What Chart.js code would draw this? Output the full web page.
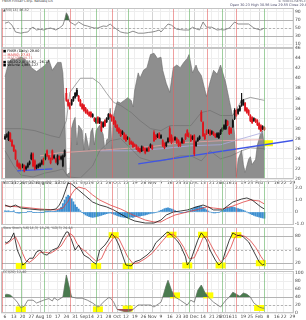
<!DOCTYPE html>
<html>
<head>
<meta charset="utf-8">
<script src="https://cdn.jsdelivr.net/npm/chart.js@4.4.1/dist/chart.umd.min.js"></script>
<style>
  html, body { margin: 0; padding: 0; background: #fff; }
  #wrap { position: relative; width: 306px; height: 320px; overflow: hidden; font-family: 'DejaVu Sans', sans-serif; }
  canvas { position: absolute; left: 0; }
  .t { position: absolute; font-size: 3.4px; line-height: 3.6px; color: #333; white-space: nowrap; }
</style>
</head>
<body>
<div id="wrap">
  <canvas id="cRsi" width="306" height="48" style="top:4px"></canvas>
  <canvas id="cPrice" width="306" height="142" style="top:44px"></canvas>
  <canvas id="cMacd" width="306" height="52" style="top:177px"></canvas>
  <canvas id="cStoch" width="306" height="51" style="top:223px"></canvas>
  <canvas id="cLow" width="306" height="53" style="top:267px"></canvas>

  <div class="t" style="left:2px;top:0px;color:#444">FNSR Finisar Corp. Nasdaq GS</div>
  <div class="t" style="left:278px;top:0px;color:#667">© StockCharts.com</div>
  <div class="t" style="left:230px;top:4px;color:#446">Open 30.23 High 30.56 Low 29.55 Close 29.80 Chg -0.40 (-1.32%)<span style="color:#c00">▼</span></div>
  <div class="t" style="left:3px;top:9px;color:#555">▲RSI(14) 46.82</div>

  <div class="t" style="left:3px;top:50px;color:#000">■ FNSR (Daily) 29.80</div>
  <div class="t" style="left:3px;top:53.6px;color:#d22">— MA(50) 27.83</div>
  <div class="t" style="left:3px;top:57.2px;color:#c77">— MA(200) 28.71</div>
  <div class="t" style="left:3px;top:60.8px;color:#000">■ BB(20,2.0) 35.62 - 26.17</div>
  <div class="t" style="left:3px;top:64.4px;color:#000">■ Volume 1,865,127</div>

  <div class="t" style="left:3px;top:182px;color:#555">MACD(12,26,9) 0.247, 0.671, -0.424</div>
  <div class="t" style="left:3px;top:227px;color:#555">Slow Stoch %K(14,3) 18.26, %D(3) 24.48</div>
  <div class="t" style="left:3px;top:271px;color:#555">CCI(20) 12.40</div>
</div>

<script>
// trading-day index on the x axis (0 = Jul 6 2015)
const tickPos = [0,5,10,15,20,25,30,35,40,45,49,54,59,64,69,74,79,84,89,94,99,103,108,113,118,122,126,131,136,140,145,150,155,159,164];
const tickText = ['6','13','20','27','Aug','10','17','24','31','Sep','14','21','28','Oct','12','19','26','Nov','9','16','23','30','Dec','14','21','28','2016','11','19','25','Feb','8','16','22','29'];
const monthTicks = ['Aug','Sep','Oct','Nov','Dec','2016','Feb'];

// marker lines (stoch tops in red, bottoms in green)
const redLines = [-2, 37, 61, 96, 115, 132];
const greenLines = [9, 22, 52, 70, 105, 124, 148];

// daily candles
const openP = [
  28.0,28.4,27.8,29.0,27.6,26.6,25.6,23.6,23.0,22.8,
  22.4,22.6,22.0,22.4,23.0,24.0,25.0,23.6,22.2,22.4,
  22.6,23.0,24.0,24.0,25.6,24.6,24.0,25.6,24.2,24.0,
  23.0,24.4,24.0,22.6,24.6,37.0,35.6,35.0,34.8,35.6,
  36.2,36.6,36.4,35.6,34.8,34.6,34.0,33.6,33.2,33.2,
  32.4,32.0,31.2,32.2,31.2,31.2,30.4,31.6,31.4,32.0,
  32.8,32.6,32.2,31.4,30.6,30.0,29.6,29.0,29.0,28.6,
  28.0,28.0,27.4,27.2,26.8,26.6,26.2,26.0,25.6,26.2,
  26.0,25.6,26.2,26.4,26.6,29.2,28.6,28.4,29.0,28.2,
  27.6,27.0,26.6,27.4,30.0,28.6,28.0,27.8,28.0,27.6,
  27.2,27.2,27.6,28.8,29.6,29.0,28.6,28.0,28.6,26.6,
  27.6,28.0,33.2,31.2,28.8,29.6,29.2,29.6,29.0,29.2,
  28.8,28.4,28.2,29.0,29.6,30.0,30.0,31.4,30.2,30.0,
  30.4,32.0,33.6,33.0,33.6,34.6,34.8,35.0,34.0,33.6,
  32.6,32.2,31.6,31.8,31.6,31.0,30.6,30.0,30.2
];
const closeP = [
  28.4,28.8,29.2,27.6,26.6,25.6,24.0,22.6,22.2,22.0,
  22.8,21.6,22.4,23.0,23.4,24.8,22.6,22.0,22.6,22.8,
  23.0,23.6,23.0,24.8,24.6,24.0,23.2,24.0,24.6,23.4,
  24.6,24.0,24.4,24.6,25.6,35.6,34.6,34.0,35.6,36.2,
  37.0,37.6,35.6,34.6,34.0,33.6,33.2,33.0,32.6,32.4,
  32.8,31.6,32.0,31.2,32.0,29.6,31.2,30.6,32.0,32.8,
  32.4,31.6,31.0,30.4,29.6,29.2,28.6,29.4,28.0,27.6,
  28.2,27.0,27.0,26.4,26.6,26.0,25.6,25.4,26.4,25.8,
  25.2,26.0,25.6,26.8,26.0,27.6,28.0,28.8,28.2,28.6,
  26.6,26.2,27.2,28.0,27.6,27.2,27.6,28.2,27.2,26.6,
  26.6,28.0,27.2,28.0,28.6,28.4,27.6,28.4,25.0,27.4,
  28.0,28.4,31.6,28.6,28.0,29.0,29.6,28.8,29.4,28.8,
  28.4,29.0,29.0,29.6,30.0,30.6,31.6,30.8,29.0,29.2,
  31.6,33.6,32.6,33.8,34.4,35.6,35.6,33.6,33.2,32.8,
  31.6,31.2,32.0,31.4,30.8,30.0,29.6,30.4,29.8
];
const highP = [
  28.8,29.0,29.4,29.2,27.8,26.8,25.8,23.8,23.2,23.0,
  23.0,22.8,22.6,23.2,23.6,25.2,25.2,23.8,22.8,23.0,
  23.2,23.8,24.2,25.0,25.8,24.8,24.2,25.8,24.8,24.2,
  24.8,24.6,24.6,24.8,25.8,38.0,35.8,35.2,35.8,36.4,
  37.2,38.0,36.6,35.8,35.0,34.8,34.2,33.8,33.4,33.4,
  33.0,32.2,32.2,32.4,32.2,31.4,31.4,31.8,32.2,33.0,
  33.0,32.8,32.4,31.6,30.8,30.2,29.8,29.6,29.2,28.8,
  28.4,28.2,27.6,27.4,27.0,26.8,26.4,26.2,26.6,26.4,
  26.2,26.2,26.4,27.0,26.8,29.6,28.8,29.0,29.2,28.8,
  27.8,27.2,27.4,28.2,30.4,28.8,28.2,28.4,28.2,27.8,
  27.4,28.2,27.8,29.0,29.8,29.2,28.8,28.6,28.8,27.6,
  28.2,28.6,33.6,31.4,29.0,29.8,29.8,29.8,29.6,29.4,
  29.0,29.2,29.2,29.8,30.2,30.8,31.8,31.6,30.4,30.2,
  31.8,34.0,33.8,34.0,34.6,37.0,35.8,35.2,34.2,33.8,
  32.8,32.4,32.2,32.0,31.8,31.2,30.8,30.6,30.4
];
const lowP = [
  27.8,28.2,27.6,27.4,26.4,25.4,23.8,22.4,22.0,21.8,
  22.2,21.4,21.8,22.2,22.8,23.8,22.4,21.8,22.0,22.2,
  22.4,22.8,22.8,23.8,24.4,23.8,23.0,23.8,24.0,23.2,
  22.8,23.8,23.8,22.4,24.4,35.4,34.4,33.8,34.6,35.4,
  36.0,36.4,35.4,34.4,33.8,33.4,33.0,32.8,32.4,32.2,
  32.2,31.4,31.0,31.0,31.0,29.4,30.2,30.4,31.2,31.8,
  32.2,31.4,30.8,30.2,29.4,29.0,28.4,28.8,27.8,27.4,
  27.8,26.8,26.8,26.2,26.4,25.8,25.4,25.2,25.4,25.6,
  25.0,25.4,25.4,26.2,25.8,27.4,27.8,28.2,28.0,28.0,
  26.4,26.0,26.4,27.2,27.4,27.0,27.4,27.6,27.0,26.4,
  26.4,27.0,27.0,27.8,28.4,28.2,27.4,27.8,24.6,26.4,
  27.4,27.8,31.4,28.4,27.8,28.8,29.0,28.6,28.8,28.6,
  28.2,28.2,28.0,28.8,29.4,29.8,29.8,30.6,28.8,29.0,
  30.2,31.8,32.4,32.8,33.4,34.4,34.6,33.4,33.0,32.6,
  31.4,31.0,31.4,31.2,30.6,29.8,29.4,29.8,29.6
];

// shaded indicator behind the price (0-100)
const grayArea = [[0,78],[2,89],[4,92],[6,91],[9,93],[11,92],[13,89],[15,85],[18,82],[21,85],[23,87],[25,91],[27,83],[30,89],[32,89],[33,81],[34,53],[35,3],[37,5],[38,39],[39,44],[40,47],[41,26],[42,41],[44,37],[45,22],[46,35],[48,22],[49,36],[50,39],[51,26],[52,37],[53,39],[54,41],[56,34],[57,22],[58,30],[59,31],[60,54],[61,22],[62,49],[64,59],[66,58],[68,60],[70,62],[72,60],[73,55],[74,68],[76,81],[77,77],[79,83],[81,85],[83,95],[85,96],[87,92],[89,93],[90,83],[92,73],[94,66],[96,85],[98,87],[100,85],[102,89],[104,92],[105,95],[107,81],[109,87],[110,83],[112,79],[115,63],[117,74],[119,83],[121,80],[123,87],[126,73],[128,60],[130,47],[131,34],[132,2],[133,15],[135,22],[136,11],[137,5],[139,15],[140,17],[141,11],[143,15],[144,26],[146,35],[147,37],[148,22]];

// overlays on the price panel
const bbUpper = [[0,30.0],[9,30.0],[17,29.6],[26,28.6],[31,28.2],[35,31.6],[37,37.2],[43,40.0],[50,40.0],[54,39.0],[58,37.0],[62,35.2],[66,34.6],[72,33.2],[77,31.6],[83,30.0],[89,29.6],[94,30.6],[100,30.6],[106,30.6],[112,33.2],[117,33.6],[123,32.6],[130,32.6],[135,35.6],[140,36.2],[148,35.6]];
const bbLower = [[0,25.6],[5,22.6],[9,20.8],[16,20.4],[23,21.2],[29,21.6],[33,22.0],[36,20.4],[43,20.2],[50,22.6],[54,25.6],[60,27.6],[66,28.0],[72,26.0],[77,24.2],[83,23.6],[89,23.6],[94,24.0],[100,24.6],[106,24.6],[112,23.6],[117,25.6],[123,24.0],[129,24.6],[135,25.6],[140,26.2],[148,26.0]];
const maPink = [[20,24.6],[31,25.2],[49,25.6],[66,26.0],[83,26.4],[100,27.2],[123,27.6],[147,27.8]];
const maLilac = [[54,25.6],[72,25.6],[89,26.0],[106,26.6],[123,26.8],[147,29.2]];
const trendA = [[7,21.6],[27,22.0]];
const trendB = [[76,23.0],[165,27.7]];
const priceMarks = [[150,27.1]];

// RSI(14)
const rsiLine = [[0,62],[2,65],[4,57],[6,40],[9,37],[11,39],[13,40],[15,50],[16,52],[18,45],[20,47],[22,45],[24,48],[26,50],[29,45],[31,50],[33,57],[34,70],[35,88],[36,80],[37,65],[39,60],[40,57],[42,65],[45,57],[47,55],[49,52],[51,50],[53,50],[56,55],[58,54],[60,60],[62,52],[64,46],[66,40],[68,38],[70,37],[73,42],[76,37],[79,37],[82,39],[84,40],[86,42],[88,45],[89,40],[91,50],[93,60],[95,57],[98,47],[100,46],[102,45],[105,45],[107,52],[109,48],[111,45],[113,65],[115,52],[118,52],[121,45],[123,46],[125,45],[128,50],[131,65],[133,60],[136,60],[139,60],[142,50],[144,47],[146,45],[148,50]];

// MACD(12,26,9)
const macdLine = [[0,0.58],[3,0.42],[6,0.58],[9,0.33],[14,0.25],[20,0.17],[26,0.17],[29,0.25],[31,0.58],[33,1.17],[35,2.0],[36,2.42],[38,2.33],[42,1.83],[46,1.33],[50,0.83],[54,0.58],[58,0.42],[62,0.17],[66,-0.17],[70,-0.5],[74,-0.75],[80,-0.92],[85,-0.92],[89,-0.67],[92,-0.25],[96,0],[100,0.08],[104,0.17],[109,0.42],[113,0.58],[116,0.42],[119,0.17],[124,0.17],[130,0.83],[135,1.08],[138,1.17],[141,1.0],[146,0.42],[148,0.25]];
const signalLine = [[0,0.5],[9,0.42],[20,0.25],[29,0.17],[33,0.33],[35,0.7],[36,0.9],[38,1.5],[40,1.9],[42,2.08],[46,1.92],[50,1.42],[54,1.0],[60,0.58],[66,0.25],[73,-0.25],[80,-0.67],[85,-0.83],[89,-0.83],[92,-0.58],[97,-0.25],[104,0],[109,0.17],[115,0.42],[119,0.33],[124,0.25],[130,0.5],[136,0.83],[140,1.0],[145,0.92],[148,0.67]];
const macdHist = [
  0.1,0.08,0.1,0.05,0.06,0.1,
  -0.05,-0.08,-0.1,-0.08,-0.05,-0.04,-0.02,
  0.02,0.03,0.02,-0.02,-0.03,-0.05,-0.04,-0.03,-0.02,-0.01,0.01,0.02,0.02,
  0.03,0.05,0.06,0.08,0.15,0.25,0.4,
  0.7,1.0,1.25,1.4,1.3,1.1,0.85,0.6,0.4,0.25,0.1,-0.05,
  -0.15,-0.25,-0.32,-0.38,-0.42,-0.45,-0.42,-0.4,-0.36,-0.32,-0.28,-0.22,-0.18,-0.14,
  -0.1,-0.08,-0.12,-0.18,
  -0.24,-0.3,-0.35,-0.4,-0.42,-0.45,-0.45,-0.48,-0.45,-0.42,-0.45,-0.4,-0.38,-0.36,-0.34,-0.3,-0.28,-0.25,-0.2,-0.16,-0.12,-0.1,
  -0.08,-0.05,0.0,0.08,0.14,0.2,
  0.28,0.32,0.34,0.3,0.25,0.2,
  0.12,0.05,0.0,-0.04,-0.06,-0.05,-0.02,0.03,
  0.1,0.18,0.26,0.34,0.4,0.45,0.48,0.45,0.38,
  0.28,0.18,0.08,0.0,-0.05,-0.08,-0.08,-0.06,-0.03,
  0.05,0.12,0.2,0.28,0.34,0.38,0.4,0.42,0.38,
  0.32,0.28,0.24,0.2,0.14,
  0.08,0.0,-0.08,-0.15,-0.22,-0.28,-0.34,-0.38,-0.42,-0.46,-0.5,-0.52
];

// Slow stochastic
const stochK = [[0,67],[1,65],[3,71],[5,87],[7,49],[9,31],[10,16],[11,18],[14,31],[16,31],[18,45],[20,49],[22,40],[24,38],[27,49],[30,54],[31,60],[33,76],[35,89],[36,89],[38,71],[40,49],[42,60],[45,38],[48,31],[50,23],[52,18],[54,49],[57,60],[59,71],[61,85],[63,76],[65,60],[67,38],[69,16],[72,14],[74,23],[77,27],[81,38],[84,49],[86,65],[89,76],[92,87],[93,89],[95,82],[98,71],[100,60],[103,34],[104,16],[106,27],[108,49],[110,71],[112,87],[113,82],[115,71],[117,49],[120,27],[122,16],[124,23],[126,49],[128,71],[130,87],[132,82],[135,80],[136,78],[139,67],[140,60],[143,38],[145,23],[147,16],[148,18]];
const stochD = [[0,62],[2,65],[4,72],[6,78],[8,62],[10,42],[12,25],[14,22],[16,28],[18,35],[20,44],[23,44],[26,42],[29,49],[32,58],[35,77],[37,86],[39,80],[41,64],[43,54],[46,46],[49,35],[52,24],[55,30],[58,55],[61,72],[63,80],[65,74],[67,58],[70,34],[73,19],[76,21],[80,30],[84,42],[87,56],[90,70],[93,83],[96,84],[99,73],[102,55],[105,30],[108,32],[111,58],[113,77],[115,79],[117,64],[120,42],[123,23],[126,33],[129,56],[131,77],[134,83],[137,79],[140,70],[143,55],[146,35],[148,24]];
const stochMarks = [[9,14],[52,14],[70,13],[62,82],[95,83],[113,83],[132,82],[104,15],[123,15],[146,20]];

// lower indicator
const lowLine = [[0,45],[1,47],[3,45],[5,37],[7,27],[9,13],[11,17],[13,32],[16,32],[18,25],[22,32],[25,36],[27,30],[28,38],[30,32],[33,40],[35,95],[38,40],[41,37],[44,37],[47,32],[50,25],[53,15],[54,17],[56,27],[59,38],[60,38],[62,27],[64,9],[66,6],[69,3],[72,5],[73,9],[76,20],[79,20],[83,20],[85,15],[89,27],[90,40],[92,70],[93,82],[95,57],[97,40],[100,32],[104,20],[106,32],[108,27],[110,57],[112,70],[114,52],[116,40],[119,27],[123,15],[126,32],[128,40],[130,52],[132,47],[134,42],[136,50],[138,47],[140,40],[142,25],[145,15],[147,12],[148,12]];
const lowMarks = [[9,9],[53,9],[70,11],[97,44],[116,44],[145,12.5]];

Chart.defaults.font.family = "'DejaVu Sans', sans-serif";

const pts = arr => arr.map(([x, y]) => ({ x, y }));

// draws level lines, yellow highlights, marker lines and the panel frame
const deco = {
  id: 'deco',
  beforeDatasetsDraw(chart, args, o) {
    const { ctx, chartArea: a } = chart;
    const x = chart.scales.x, y = chart.scales.y;
    ctx.save();
    (o.levels || []).forEach(([v, dashed]) => {
      const py = Math.round(y.getPixelForValue(v)) + 0.5;
      ctx.strokeStyle = '#a4a4a4';
      ctx.lineWidth = 0.8;
      ctx.setLineDash(dashed ? [2, 2] : []);
      ctx.beginPath(); ctx.moveTo(a.left, py); ctx.lineTo(a.right, py); ctx.stroke();
    });
    ctx.setLineDash([]);
    ctx.fillStyle = '#ffff00';
    (o.marks || []).forEach(([i, v]) => {
      ctx.fillRect(x.getPixelForValue(i) - 5, y.getPixelForValue(v) - 3, 10, 6);
    });
    ctx.restore();
  },
  afterDatasetsDraw(chart) {
    const { ctx, chartArea: a } = chart;
    const x = chart.scales.x;
    ctx.save();
    ctx.lineWidth = 1;
    [[redLines, 'rgba(228,96,96,0.6)'], [greenLines, 'rgba(96,176,96,0.6)']].forEach(([list, col]) => {
      ctx.strokeStyle = col;
      list.forEach(i => {
        const px = Math.round(x.getPixelForValue(i)) + 0.5;
        ctx.beginPath(); ctx.moveTo(px, a.top); ctx.lineTo(px, a.bottom); ctx.stroke();
      });
    });
    ctx.strokeStyle = '#c4c4c4';
    ctx.strokeRect(a.left + 0.5, a.top + 0.5, a.width - 1, a.height - 1);
    ctx.restore();
  }
};

function xAxis(showLabels) {
  return {
    type: 'linear', min: -2.3, max: 164.9, offset: false,
    afterBuildTicks: ax => { ax.ticks = tickPos.map(v => ({ value: v })); },
    afterFit: ax => { ax.height = showLabels ? 7 : 0; },
    grid: {
      offset: false, drawTicks: false,
      color: c => (c.tick && monthTicks.includes(tickText[tickPos.indexOf(c.tick.value)])) ? '#d4d4d4' : '#eeeeee'
    },
    border: { display: false },
    ticks: {
      display: showLabels, autoSkip: false, maxRotation: 0, padding: 1,
      font: { size: 4.5 }, color: '#444',
      callback: v => tickText[tickPos.indexOf(v)]
    }
  };
}

function yAxis(min, max, ticks) {
  return {
    position: 'right', min, max,
    afterBuildTicks: ax => { ax.ticks = ticks.map(v => ({ value: v })); },
    afterFit: ax => { ax.width = 12; },
    grid: { color: '#eeeeee', drawTicks: false },
    border: { display: false },
    ticks: { padding: 1, font: { size: 4.5 }, color: '#444' }
  };
}

function baseOpts(yScales, showX, decoOpts) {
  return {
    responsive: false, animation: false,
    layout: { padding: { left: 1, right: 0, top: 4, bottom: showX ? 0 : 4 } },
    plugins: { legend: { display: false }, tooltip: { enabled: false }, deco: decoOpts },
    elements: { point: { radius: 0 }, line: { tension: 0 } },
    scales: Object.assign({ x: xAxis(showX) }, yScales)
  };
}

const line = (data, color, width, extra) => Object.assign({
  type: 'line', data: pts(data), borderColor: color, borderWidth: width, pointRadius: 0, fill: false
}, extra);

// RSI panel
new Chart(document.getElementById('cRsi'), {
  type: 'line',
  data: { datasets: [
    line(rsiLine, '#707070', 0.8, { fill: { target: { value: 70 }, above: '#3f6f44', below: 'rgba(0,0,0,0)' } })
  ] },
  options: baseOpts({ y: yAxis(0, 100, [10, 30, 50, 70, 90]) }, false, { levels: [[70], [50, true], [30]] }),
  plugins: [deco]
});

// price panel
const candleColor = closeP.map((c, i) => c < openP[i] ? '#e0141c' : '#111111');
const priceScales = {
  y: yAxis(20, 46, [20, 22, 24, 26, 28, 30, 32, 34, 36, 38, 40, 42, 44, 46]),
  yv: { display: false, min: 0, max: 100 }
};
new Chart(document.getElementById('cPrice'), {
  type: 'bar',
  data: { datasets: [
    line(grayArea, '#6a6a6a', 0.6, { yAxisID: 'yv', fill: 'start', backgroundColor: '#8e8e8e', order: 10 }),
    line(maPink, '#e9a3a3', 0.8, { order: 6 }),
    line(maLilac, '#a9a9de', 0.8, { order: 6 }),
    line(bbUpper, '#6c6c6c', 0.6, { order: 5 }),
    line(bbLower, '#6c6c6c', 0.6, { order: 5 }),
    line(trendA, '#3f55e6', 1.3, { order: 2 }),
    line(trendB, '#3f55e6', 1.3, { order: 2 }),
    { type: 'bar', data: lowP.map((l, i) => ({ x: i, y: [l, highP[i]] })), backgroundColor: candleColor,
      barThickness: 0.5, grouped: false, minBarLength: 1, order: 1 },
    { type: 'bar', data: openP.map((o, i) => ({ x: i, y: [o, closeP[i]] })), backgroundColor: candleColor,
      barThickness: 1.2, grouped: false, minBarLength: 1, order: 0 }
  ] },
  options: baseOpts(priceScales, true, { marks: priceMarks }),
  plugins: [deco]
});

// MACD panel
new Chart(document.getElementById('cMacd'), {
  type: 'bar',
  data: { datasets: [
    line(macdLine, '#111111', 0.8, { order: 1 }),
    line(signalLine, '#e04040', 0.8, { order: 1 }),
    { type: 'bar', data: macdHist.map((v, i) => ({ x: i, y: v })), backgroundColor: '#3d8fd0',
      barThickness: 1.2, order: 2 }
  ] },
  options: baseOpts({ y: yAxis(-1.083, 2.583, [-1, -0.5, 0, 0.5, 1, 1.5, 2, 2.5]) }, false, {}),
  plugins: [deco]
});

// stochastic panel
new Chart(document.getElementById('cStoch'), {
  type: 'line',
  data: { datasets: [
    line(stochK, '#111111', 0.8),
    line(stochD, '#e04040', 0.8)
  ] },
  options: baseOpts({ y: yAxis(5, 100, [20, 50, 80]) }, false, { levels: [[80], [50, true], [20]], marks: stochMarks }),
  plugins: [deco]
});

// lower panel
new Chart(document.getElementById('cLow'), {
  type: 'line',
  data: { datasets: [
    line(lowLine, 'rgba(0,0,0,0)', 0, { fill: { target: { value: 40 }, above: '#4a7a4f', below: 'rgba(0,0,0,0)' } }),
    line(lowLine, 'rgba(0,0,0,0)', 0, { fill: { target: { value: 10 }, above: 'rgba(0,0,0,0)', below: '#9c5252' } }),
    line(lowLine, '#707070', 0.8)
  ] },
  options: baseOpts({ y: yAxis(0, 105, [0, 20, 40, 60, 80, 100]) }, true, { levels: [[40], [20, true]], marks: lowMarks }),
  plugins: [deco]
});
</script>
</body>
</html>
